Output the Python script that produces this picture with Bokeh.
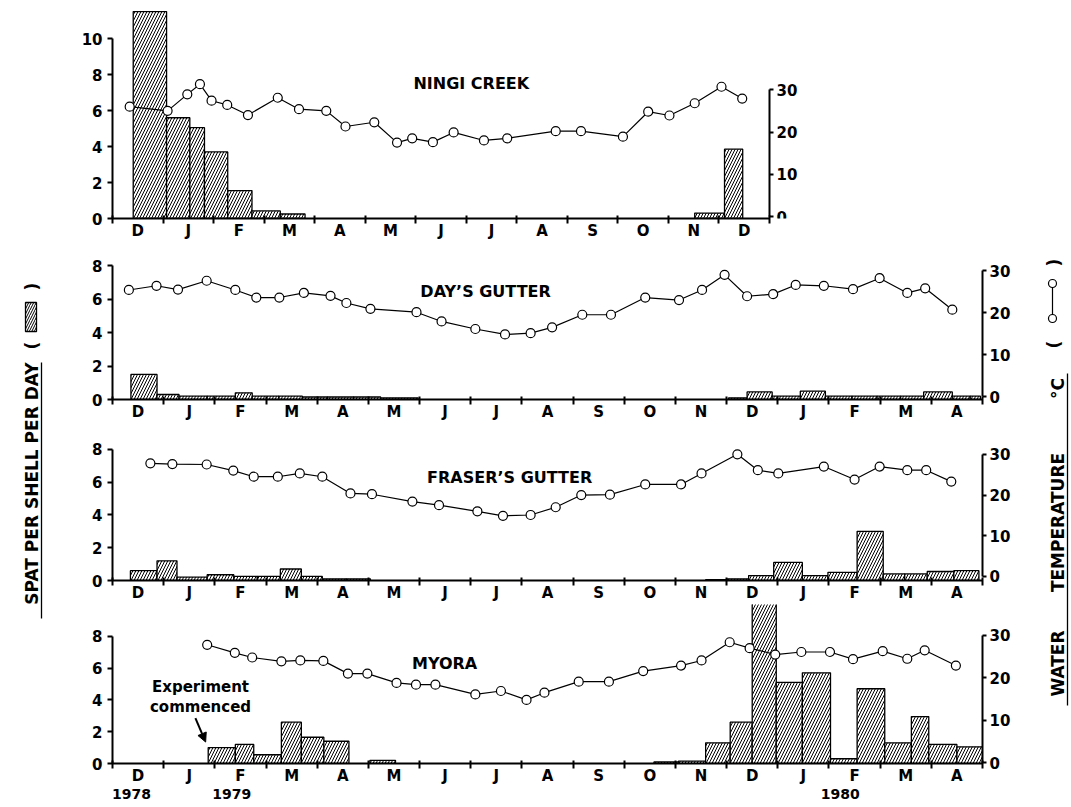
import math
from bokeh.plotting import figure
from bokeh.models import Range1d, LinearAxis, FixedTicker, Arrow, NormalHead
from bokeh.layouts import row, column
from bokeh.core.properties import value
from bokeh.embed import file_html
from bokeh.resources import INLINE

# ---------------- data (x in months after 1 Dec 1978) ----------------
months_13 = ["D", "J", "F", "M", "A", "M", "J", "J", "A", "S", "O", "N", "D"]
months_17 = months_13 + ["J", "F", "M", "A"]

# Ningi Creek
ningi_bar_start = [0.41, 1.07, 1.53, 1.82, 2.28, 2.76, 3.32, 11.52, 12.11]
ningi_bar_end = [1.07, 1.53, 1.82, 2.28, 2.76, 3.32, 3.81, 12.11, 12.47]
ningi_spat = [11.5, 5.6, 5.05, 3.7, 1.55, 0.42, 0.25, 0.3, 3.85]
ningi_temp_month = [0.34, 1.09, 1.48, 1.73, 1.96, 2.27, 2.68, 3.27, 3.69, 4.23, 4.61, 5.18, 5.63,
                    5.93, 6.34, 6.75, 7.35, 7.81, 8.77, 9.27, 10.10, 10.60, 11.02, 11.52, 12.05, 12.46]
ningi_temp = [26.0, 25.0, 28.9, 31.3, 27.4, 26.4, 24.0, 28.1, 25.4, 25.0, 21.3, 22.3, 17.5,
              18.5, 17.6, 19.9, 18.0, 18.5, 20.2, 20.2, 18.9, 24.8, 23.9, 26.8, 30.7, 27.9]

# Day's Gutter
days_bar_start = [0.36, 0.87, 1.30, 1.85, 2.40, 2.73, 3.25, 3.71, 4.20, 4.71, 5.24,
                  12.04, 12.40, 12.89, 13.44, 13.93, 14.45, 14.94, 15.40, 15.85, 16.41, 16.76]
days_bar_end = [0.87, 1.30, 1.85, 2.40, 2.73, 3.25, 3.71, 4.20, 4.71, 5.24, 5.97,
                12.40, 12.89, 13.44, 13.93, 14.45, 14.94, 15.40, 15.85, 16.41, 16.76, 16.96]
days_spat = [1.5, 0.3, 0.2, 0.2, 0.4, 0.2, 0.2, 0.15, 0.15, 0.15, 0.1,
             0.1, 0.45, 0.2, 0.5, 0.2, 0.2, 0.2, 0.2, 0.45, 0.2, 0.2]
days_temp_month = [0.32, 0.86, 1.28, 1.84, 2.40, 2.81, 3.26, 3.74, 4.26, 4.57, 5.04, 5.94, 6.43,
                   7.09, 7.67, 8.17, 8.59, 9.18, 9.74, 10.41, 11.07, 11.52, 11.96, 12.40, 12.91,
                   13.35, 13.90, 14.47, 14.99, 15.53, 15.88, 16.41]
days_temp = [25.4, 26.4, 25.5, 27.6, 25.4, 23.6, 23.6, 24.7, 24.0, 22.3, 20.9, 20.1, 17.9,
             16.1, 14.8, 15.1, 16.5, 19.5, 19.5, 23.6, 23.0, 25.4, 29.0, 23.9, 24.4,
             26.6, 26.4, 25.6, 28.2, 24.7, 25.8, 20.7]

# Fraser's Gutter
fraser_bar_start = [0.35, 0.87, 1.26, 1.85, 2.37, 2.83, 3.28, 3.69, 4.10, 4.57,
                    11.59, 12.01, 12.43, 12.92, 13.48, 13.98, 14.55, 15.06, 15.48, 15.92, 16.44]
fraser_bar_end = [0.87, 1.26, 1.85, 2.37, 2.83, 3.28, 3.69, 4.10, 4.57, 5.04,
                  12.01, 12.43, 12.92, 13.48, 13.98, 14.55, 15.06, 15.48, 15.92, 16.44, 16.93]
fraser_spat = [0.6, 1.2, 0.2, 0.35, 0.25, 0.25, 0.7, 0.25, 0.1, 0.1,
               0.05, 0.1, 0.3, 1.1, 0.3, 0.5, 3.0, 0.4, 0.4, 0.55, 0.6]
fraser_temp_month = [0.74, 1.17, 1.84, 2.36, 2.76, 3.23, 3.66, 4.10, 4.65, 5.07, 5.86, 6.38,
                     7.13, 7.63, 8.17, 8.66, 9.16, 9.72, 10.41, 11.11, 11.51, 12.21, 12.61,
                     13.01, 13.90, 14.50, 14.99, 15.53, 15.90, 16.39]
fraser_temp = [27.8, 27.6, 27.5, 26.0, 24.5, 24.5, 25.3, 24.5, 20.4, 20.2, 18.4, 17.5,
               16.0, 14.9, 15.1, 17.0, 20.0, 20.1, 22.6, 22.6, 25.3, 30.0, 26.1,
               25.3, 27.0, 23.8, 27.0, 26.1, 26.1, 23.3]

# Myora
myora_bar_start = [1.87, 2.40, 2.76, 3.30, 3.69, 4.13, 5.03, 10.58, 11.06, 11.59, 12.07, 12.50,
                   12.97, 13.48, 14.03, 14.55, 15.09, 15.61, 15.95, 16.50]
myora_bar_end = [2.40, 2.76, 3.30, 3.69, 4.13, 4.62, 5.53, 11.06, 11.59, 12.07, 12.50, 12.97,
                 13.48, 14.03, 14.55, 15.09, 15.61, 15.95, 16.50, 17.00]
myora_spat = [1.0, 1.2, 0.55, 2.6, 1.65, 1.4, 0.2, 0.1, 0.15, 1.3, 2.6, 10.4,
              5.1, 5.7, 0.3, 4.7, 1.3, 2.95, 1.2, 1.05]
myora_temp_month = [1.85, 2.39, 2.73, 3.30, 3.67, 4.12, 4.60, 4.98, 5.55, 5.93, 6.31, 7.09,
                    7.59, 8.09, 8.44, 9.11, 9.70, 10.37, 11.11, 11.51, 12.06, 12.45, 12.95,
                    13.46, 14.02, 14.47, 15.05, 15.53, 15.87, 16.48]
myora_temp = [27.8, 25.9, 24.8, 23.9, 24.1, 24.0, 21.0, 21.0, 18.8, 18.4, 18.4, 16.1,
              16.9, 14.8, 16.5, 19.1, 19.1, 21.6, 22.9, 24.1, 28.4, 27.0, 25.5,
              26.1, 26.1, 24.4, 26.3, 24.5, 26.5, 22.9]

year_labels = ["1978", "1979", "1980"]
year_month = [0.37, 2.33, 14.22]

FONT = "DejaVu Sans"
PANEL_W = 960
LEFT_B = 52
RIGHT_B = 38


def style_axis(ax, size="15px"):
    ax.axis_line_width = 2
    ax.axis_line_color = "black"
    ax.major_label_text_font = FONT
    ax.major_label_text_font_style = "bold"
    ax.major_label_text_font_size = size
    ax.major_label_text_color = "black"


def make_panel(height, top_b, bottom_b, labels, xmax, ymax, ymax_tick, trange,
               bar_start, bar_end, spat, tmonth, temp, title, title_xy):
    n = len(labels)
    p = figure(width=PANEL_W, height=height,
               x_range=Range1d(0, xmax), y_range=Range1d(0, ymax),
               output_backend="svg", toolbar_location=None,
               min_border_left=LEFT_B, min_border_right=RIGHT_B,
               min_border_top=top_b, min_border_bottom=bottom_b)
    p.outline_line_color = None
    p.grid.visible = False
    p.background_fill_color = "white"
    p.border_fill_color = "white"

    # x axis: month letters centred, ticks at month boundaries
    xa = p.xaxis[0]
    centers = [i + 0.5 for i in range(n)]
    xa.ticker = FixedTicker(ticks=centers, minor_ticks=list(range(n + 1)))
    xa.major_label_overrides = {c: lab for c, lab in zip(centers, labels)}
    xa.bounds = (0, n)
    xa.major_tick_in = 0
    xa.major_tick_out = 0
    xa.minor_tick_in = 3
    xa.minor_tick_out = 5
    xa.minor_tick_line_width = 2
    xa.minor_tick_line_color = "black"
    xa.major_label_standoff = -2
    style_axis(xa)

    # left axis (spat)
    ya = p.yaxis[0]
    ya.ticker = FixedTicker(ticks=list(range(0, ymax_tick + 1, 2)))
    ya.bounds = (0, ymax_tick)
    ya.major_tick_in = 0
    ya.major_tick_out = 5
    ya.minor_tick_out = 0
    ya.minor_tick_in = 0
    ya.major_tick_line_width = 2
    ya.major_label_standoff = 5
    style_axis(ya)

    # right axis (temperature); for a shorter record it stands at the record's end
    p.extra_y_ranges = {"temp": Range1d(trange[0], trange[1])}
    ra = LinearAxis(y_range_name="temp", ticker=FixedTicker(ticks=[0, 10, 20, 30]),
                    bounds=(0, 30))
    if n < xmax - 0.01:
        ra.fixed_location = n
    ra.major_tick_in = 0
    ra.major_tick_out = 4
    ra.minor_tick_out = 0
    ra.minor_tick_in = 0
    ra.major_tick_line_width = 2
    ra.major_label_standoff = 3
    style_axis(ra)
    p.add_layout(ra, "right")

    # hatched spat bars
    p.quad(left=bar_start, right=bar_end, bottom=0, top=spat,
           fill_color="white", line_color="black", line_width=1.3,
           hatch_pattern="/", hatch_color="black", hatch_scale=6, hatch_weight=1.0)

    # temperature line with open circles
    p.line(tmonth, temp, y_range_name="temp", line_color="black", line_width=1.2)
    p.scatter(tmonth, temp, y_range_name="temp", marker="circle", size=9,
              fill_color="white", line_color="black", line_width=1.2)

    p.text(x=[title_xy[0]], y=[title_xy[1]], text=[title], text_align="center",
           text_baseline="middle", text_font=value(FONT), text_font_style="bold",
           text_font_size="16px", text_color="black")
    return p


p1 = make_panel(242, 8, 24, months_13, 13 * 870 / 657, 11.67, 10, (-0.45, 49.2),
                ningi_bar_start, ningi_bar_end, ningi_spat, ningi_temp_month, ningi_temp,
                "NINGI CREEK", (7.10, 7.5))
p2 = make_panel(181, 16, 24, months_17, 17, 8.42, 8, (-0.7, 32.9),
                days_bar_start, days_bar_end, days_spat, days_temp_month, days_temp,
                "DAY\u2019S GUTTER", (7.29, 6.45))
p3 = make_panel(181, 17, 24, months_17, 17, 8.54, 8, (-1.0, 33.4),
                fraser_bar_start, fraser_bar_end, fraser_spat, fraser_temp_month, fraser_temp,
                "FRASER\u2019S GUTTER", (7.76, 6.28))
p4 = make_panel(203, 0, 44, months_17, 17, 10.0, 8, (-0.2, 37.3),
                myora_bar_start, myora_bar_end, myora_spat, myora_temp_month, myora_temp,
                "MYORA", (6.49, 6.29))

# annotation in Myora panel
p4.text(x=[1.72, 1.72], y=[4.78, 3.58], text=["Experiment", "commenced"],
        text_align="center", text_baseline="middle", text_font=value(FONT),
        text_font_style="bold", text_font_size="15px", text_color="black")
p4.add_layout(Arrow(x_start=1.62, y_start=2.85, x_end=1.82, y_end=1.35,
                    line_width=2, line_color="black",
                    end=NormalHead(size=9, fill_color="black", line_color="black")))

# year labels as a second, line-less axis below the month axis
yax = LinearAxis(ticker=FixedTicker(ticks=year_month),
                 major_label_overrides={m: y for m, y in zip(year_month, year_labels)})
yax.major_tick_line_color = None
yax.minor_tick_line_color = None
yax.major_tick_out = 0
yax.major_tick_in = 0
yax.major_label_standoff = 1
style_axis(yax, "14px")
yax.axis_line_color = None
p4.add_layout(yax, "below")

# ---------------- side labels ----------------
lf = figure(width=60, height=807, x_range=Range1d(0, 60), y_range=Range1d(807, 0),
            output_backend="svg", toolbar_location=None,
            x_axis_location=None, y_axis_location=None, min_border=0)
lf.outline_line_color = None
lf.grid.visible = False
lf.text(x=[31], y=[483], text=["SPAT PER SHELL PER DAY"], angle=math.pi / 2,
        text_align="center", text_baseline="middle", text_font=value(FONT),
        text_font_style="bold", text_font_size="17px", text_color="black")
lf.segment(x0=[41], y0=[362], x1=[41], y1=[618], line_color="black", line_width=1.3)
lf.text(x=[31, 31], y=[345, 286], text=["(", ")"], angle=math.pi / 2,
        text_align="center", text_baseline="middle", text_font=value(FONT),
        text_font_style="bold", text_font_size="17px", text_color="black")
lf.quad(left=[25], right=[36], top=[302], bottom=[331], fill_color="white",
        line_color="black", line_width=1.3, hatch_pattern="/", hatch_color="black",
        hatch_scale=5, hatch_weight=1.0)

rf = figure(width=51, height=807, x_range=Range1d(1020, 1071), y_range=Range1d(807, 0),
            output_backend="svg", toolbar_location=None,
            x_axis_location=None, y_axis_location=None, min_border=0)
rf.outline_line_color = None
rf.grid.visible = False
rf.text(x=[1057, 1057, 1057], y=[663, 522, 388], text=["WATER", "TEMPERATURE", "\u00b0C"],
        angle=math.pi / 2, text_align="center", text_baseline="middle",
        text_font=value(FONT), text_font_style="bold", text_font_size="17px",
        text_color="black")
rf.segment(x0=[1067], y0=[373], x1=[1067], y1=[705], line_color="black", line_width=1.3)
rf.segment(x0=[1052], y0=[283], x1=[1052], y1=[318], line_color="black", line_width=1.2)
rf.scatter(x=[1052, 1052], y=[283, 318], marker="circle", size=8, fill_color="white",
           line_color="black", line_width=1.2)
rf.text(x=[1053, 1053], y=[344, 262], text=["(", ")"], angle=math.pi / 2,
        text_align="center", text_baseline="middle", text_font=value(FONT),
        text_font_style="bold", text_font_size="17px", text_color="black")

layout = row(lf, column(p1, p2, p3, p4), rf)
open("out.html", "w").write(file_html(layout, INLINE))
